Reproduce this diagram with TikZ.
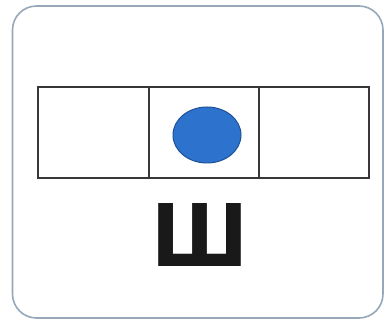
\documentclass[tikz,border=0pt]{standalone}
\usepackage{fontspec}
\newfontfamily\letterfont{DejaVu Sans}
\usepackage{graphicx}
\usetikzlibrary{shapes.geometric}
\definecolor{frame}{RGB}{150,168,185}
\definecolor{dotfill}{RGB}{45,115,205}
\definecolor{dotedge}{RGB}{30,80,150}
\definecolor{boxline}{RGB}{55,55,55}
\tikzset{
  cell/.style={draw=boxline, line width=2pt, minimum width=110pt, minimum height=91pt, inner sep=0pt, anchor=north west},
  outer/.style={draw=frame, line width=1.6pt, rounded corners=24pt},
}
\begin{document}
\begin{tikzpicture}[x=1pt,y=-1pt]
\useasboundingbox (0,0) rectangle (388,323);
\fill[white] (0,0) rectangle (388,323);
\draw[outer] (12.5,6) rectangle (383,318);
\node[cell, minimum width=111pt] (c1) at (37,86) {};
\node[cell] (c2) at (148,86) {};
\node[cell] (c3) at (258,86) {};
\node[draw=dotedge, fill=dotfill, line width=1pt, ellipse, minimum width=68pt, minimum height=56pt, inner sep=0pt] (dot) at (207,135) {};
\node[inner sep=0pt, text=black!90] (letter) at (200,234.5) {\resizebox{97pt}{63pt}{\letterfont\bfseries Ш}};
\end{tikzpicture}
\end{document}
